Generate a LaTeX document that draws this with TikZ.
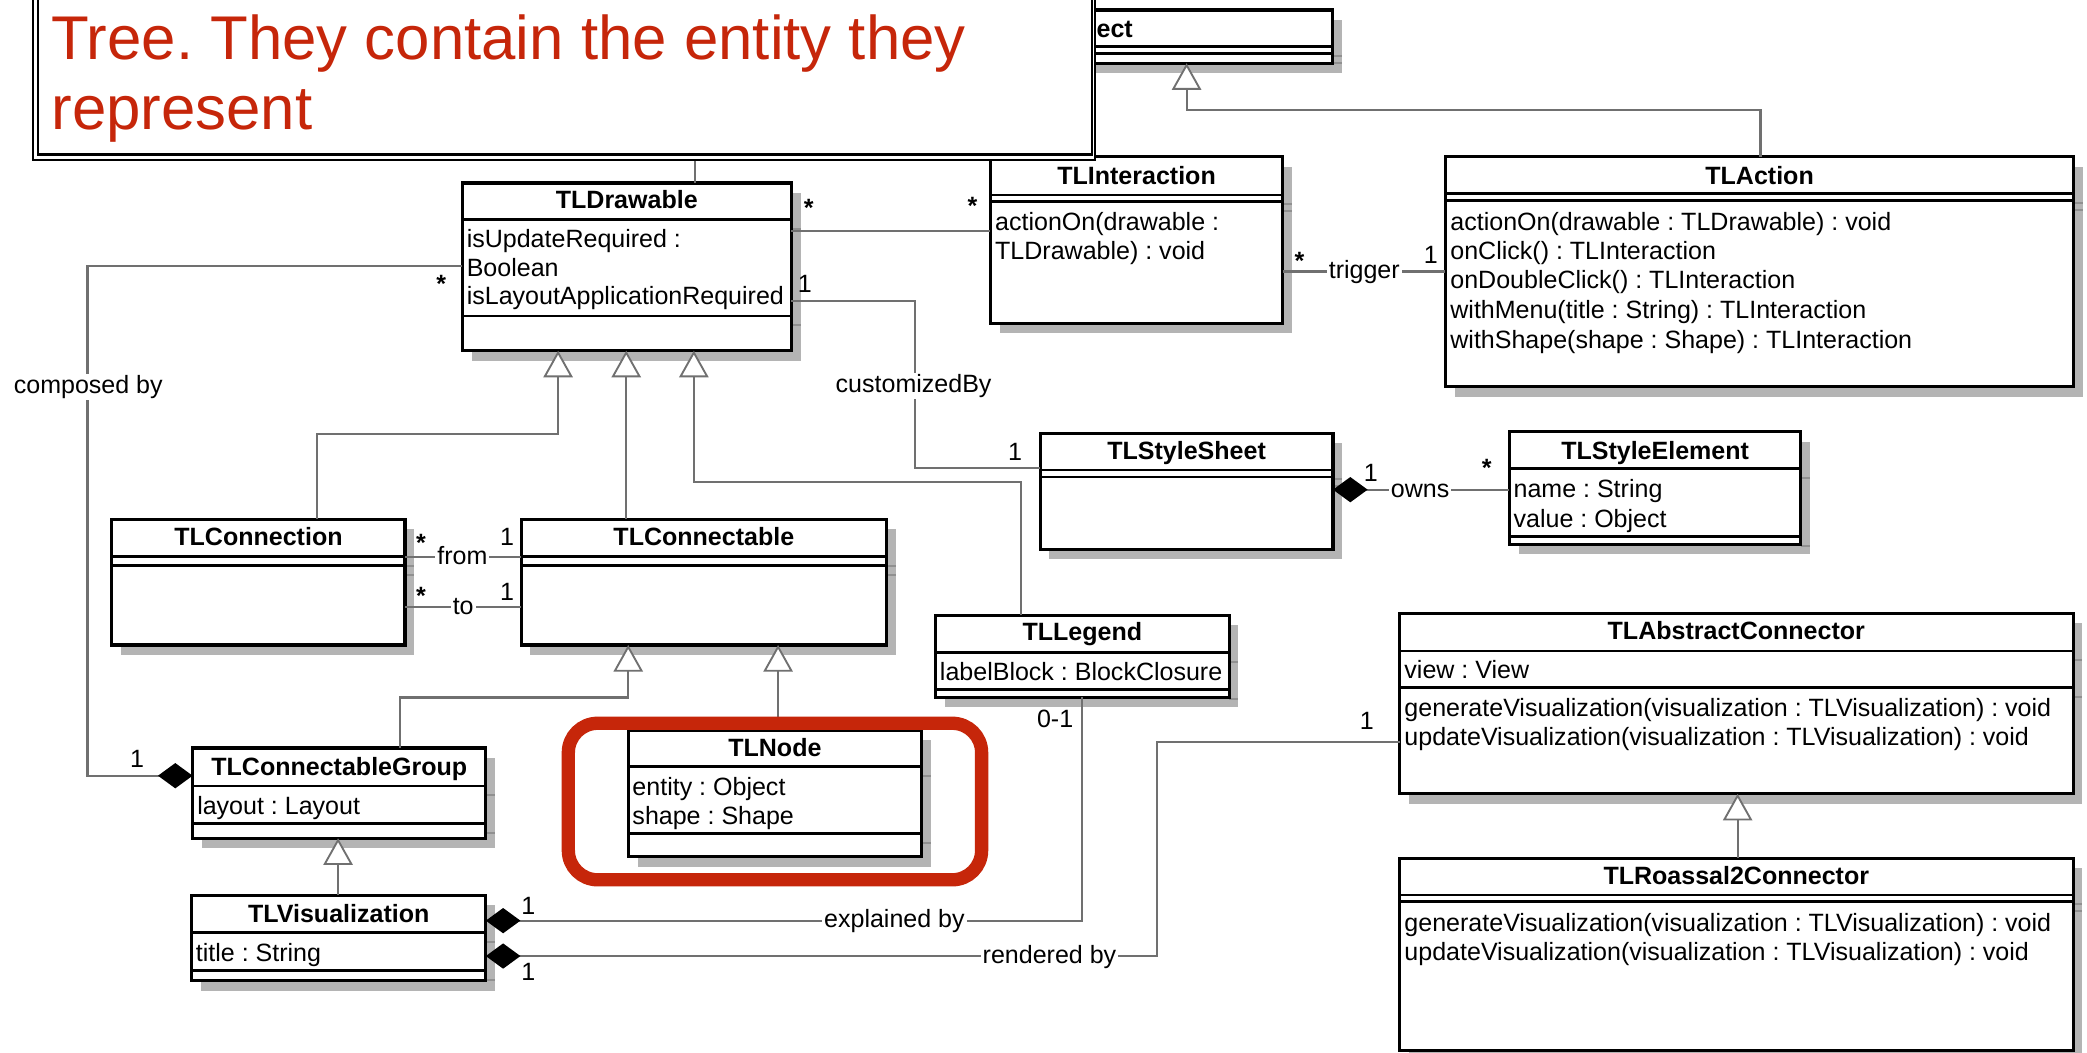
\documentclass[tikz,border=0pt]{standalone}
\usepackage{fontspec}
\setmainfont{Liberation Sans}
\usetikzlibrary{arrows.meta}
\definecolor{calred}{RGB}{198,38,10}
\definecolor{conngray}{RGB}{112,112,112}
\definecolor{shadowgray}{RGB}{180,180,180}
\tikzset{
  clsbox/.style={draw=black, fill=white, line width=2.3pt, inner sep=0pt, outer sep=0pt},
  sepline/.style={draw=black, line width=2pt},
  conn/.style={draw=conngray, line width=1.6pt},
  gen/.style={conn, -{Triangle[open, fill=white, length=20pt, width=22pt, line width=1.4pt]}},
  comp/.style={conn, {Diamond[length=26pt, width=19pt, color=black, fill=black]}-},
  ctitle/.style={font=\bfseries\fontsize{18.8}{22}\selectfont, anchor=base, inner sep=0pt},
  cline/.style={font=\fontsize{18.8}{22}\selectfont, anchor=base west, inner sep=0pt},
  mult/.style={font=\fontsize{18.8}{22}\selectfont, anchor=base, inner sep=0pt},
  star/.style={font=\bfseries\fontsize{18.8}{22}\selectfont, anchor=base, inner sep=0pt},
  role/.style={font=\fontsize{18.8}{22}\selectfont, anchor=base, fill=white, inner xsep=1.5pt, inner ysep=1pt, text height=13.5pt, text depth=4pt},
  calloutline/.style={draw=black, line width=1.6pt},
}
\newcommand{\umlcls}[6]{%
  \fill[shadowgray] ({#2+7},{#3+7.5}) rectangle ({#4+7},{#5+7.5});
  \foreach \s in {#6}{\draw[shadowgray!80!black, line width=1.5pt] ({#4},{\s+7}) -- ({#4+7},{\s+7});}
  \node[clsbox, minimum width={#4-#2}, minimum height={#5-#3}, anchor=north west] (#1) at (#2,#3) {};
  \foreach \s in {#6}{\draw[sepline] (#1.west |- 0,\s) -- (#1.east |- 0,\s);}
}
\begin{document}
\frenchspacing
\begin{tikzpicture}[x=1pt,y=-1pt]
\useasboundingbox (0,0) rectangle (1568,791);
\fill[white] (0,0) rectangle (1568,791);

% Object (mostly hidden)
\umlcls{object}{642}{7.5}{1001}{47.5}{35,40}
\node[ctitle] (object-t) at (821.8,28.5) {Object};

% classes
\umlcls{interaction}{744}{117.7}{963.8}{243}{146.5,151.5}
\node[ctitle] (interaction-t) at (853.9,138.5) {TLInteraction};
\node[cline] (interaction-o1) at (747.5,173.3) {actionOn(drawable :};
\node[cline] (interaction-o2) at (747.5,195) {TLDrawable) : void};

\umlcls{action}{1086}{117.7}{1558}{290.5}{145.5,150.5}
\node[ctitle] (action-t) at (1322,138.5) {TLAction};
\node[cline] (action-o1) at (1089.5,173.3) {actionOn(drawable : TLDrawable) : void};
\node[cline] (action-o2) at (1089.5,195) {onClick() : TLInteraction};
\node[cline] (action-o3) at (1089.5,217) {onDoubleClick() : TLInteraction};
\node[cline] (action-o4) at (1089.5,239) {withMenu(title : String) : TLInteraction};
\node[cline] (action-o5) at (1089.5,261.5) {withShape(shape : Shape) : TLInteraction};

\umlcls{drawable}{347.4}{137.5}{594.5}{263.5}{165,237.5}
\node[ctitle] (drawable-t) at (470.9,157) {TLDrawable};
\node[cline] (drawable-a1) at (350.5,186.3) {isUpdateRequired :};
\node[cline] (drawable-a2) at (350.5,207.6) {Boolean};
\node[cline] (drawable-a3) at (350.5,228.9) {isLayoutApplicationRequired};

\umlcls{connection}{84}{390}{304.3}{484.6}{418,425}
\node[ctitle] (connection-t) at (194.2,409.8) {TLConnection};

\umlcls{connectable}{391.5}{390}{666}{484.6}{418,425}
\node[ctitle] (connectable-t) at (528.8,409.8) {TLConnectable};

\umlcls{stylesheet}{781.4}{325.6}{1001.5}{412.5}{353,358.4}
\node[ctitle] (stylesheet-t) at (891.5,345.5) {TLStyleSheet};

\umlcls{styleelement}{1134}{324.5}{1353}{409}{352,403}
\node[ctitle] (styleelement-t) at (1243.5,345.5) {TLStyleElement};
\node[cline] (styleelement-a1) at (1137,374) {name : String};
\node[cline] (styleelement-a2) at (1137,396) {value : Object};

\umlcls{legend}{703}{462.4}{923.4}{524}{490,518}
\node[ctitle] (legend-t) at (813.2,481.5) {TLLegend};
\node[cline] (legend-a1) at (706,511.6) {labelBlock : BlockClosure};

\umlcls{abstract}{1051.5}{460.7}{1557.5}{596.4}{489,516.5}
\node[ctitle] (abstract-t) at (1304.5,480.5) {TLAbstractConnector};
\node[cline] (abstract-a1) at (1055,510) {view : View};
\node[cline] (abstract-o1) at (1055,538) {generateVisualization(visualization : TLVisualization) : void};
\node[cline] (abstract-o2) at (1055,560) {updateVisualization(visualization : TLVisualization) : void};

\umlcls{roassal}{1051.5}{644.7}{1557.5}{789}{672.5,677.5}
\node[ctitle] (roassal-t) at (1304.5,664.5) {TLRoassal2Connector};
\node[cline] (roassal-o1) at (1055,699.6) {generateVisualization(visualization : TLVisualization) : void};
\node[cline] (roassal-o2) at (1055,721.4) {updateVisualization(visualization : TLVisualization) : void};

\umlcls{group}{144.7}{562}{365}{629.8}{590.5,618.6}
\node[ctitle] (group-t) at (254.9,582.5) {TLConnectableGroup};
\node[cline] (group-a1) at (148,612) {layout : Layout};

\umlcls{tlnode}{472}{548.5}{692.4}{643.6}{576,626}
\node[ctitle] (tlnode-t) at (582.2,568.5) {TLNode};
\node[cline] (tlnode-a1) at (475,597.5) {entity : Object};
\node[cline] (tlnode-a2) at (475,619.6) {shape : Shape};

\umlcls{visualization}{144}{672.5}{365}{736.8}{700.7,729}
\node[ctitle] (visualization-t) at (254.5,693) {TLVisualization};
\node[cline] (visualization-a1) at (147,722.2) {title : String};

% connectors
\draw[gen] (action.north -| 1322.7,0) -- (1322.7,82.6) -- (891.5,82.6) -- (object.south -| 891.5,0);
\draw[conn] (drawable.north -| 522,0) -- (522,100);
\draw[conn] (drawable.east |- 0,173.6) -- (interaction.west |- 0,173.6);
\draw[conn] (interaction.east |- 0,204) -- (action.west |- 0,204);
\draw[conn] (drawable.east |- 0,225.9) -- (687.6,225.9) -- (687.6,351.9) -- (stylesheet.west |- 0,351.9);
\draw[comp] (stylesheet.east |- 0,367.9) -- (styleelement.west |- 0,367.9);
\draw[gen] (connection.north -| 238,0) -- (238,326) -- (419.3,326) -- (drawable.south -| 419.3,0);
\draw[gen] (connectable.north -| 470.5,0) -- (drawable.south -| 470.5,0);
\draw[gen] (legend.north -| 767,0) -- (767,362.4) -- (521.3,362.4) -- (drawable.south -| 521.3,0);
\draw[conn] (connection.east |- 0,418.7) -- (connectable.west |- 0,418.7);
\draw[conn] (connection.east |- 0,456.3) -- (connectable.west |- 0,456.3);
\draw[comp] (group.west |- 0,582.8) -- (65.7,582.8) -- (65.7,199.8) -- (drawable.west |- 0,199.8);
\draw[gen] (group.north -| 300.5,0) -- (300.5,524) -- (472,524) -- (connectable.south -| 472,0);
\draw[gen] (tlnode.north -| 584.6,0) -- (connectable.south -| 584.6,0);
\draw[gen] (visualization.north -| 254,0) -- (group.south -| 254,0);
\draw[comp] (visualization.east |- 0,691.7) -- (812.7,691.7) -- (legend.south -| 812.7,0);
\draw[comp] (visualization.east |- 0,718.3) -- (869.4,718.3) -- (869.4,557.2) -- (abstract.west |- 0,557.2);
\draw[gen] (roassal.north -| 1305.5,0) -- (abstract.south -| 1305.5,0);

% labels
\node[star] (l1) at (607.6,162.3) {*};
\node[star] (l2) at (730.7,161.1) {*};
\node[star] (l3) at (976.3,202.4) {*};
\node[role] (l4) at (1025,209.5) {trigger};
\node[mult] (l5) at (1075,198.3) {1};
\node[mult] (l6) at (604.7,219.6) {1};
\node[role] (l7) at (686.4,294.8) {customizedBy};
\node[mult] (l8) at (762.6,346.3) {1};
\node[mult] (l9) at (1030,361.7) {1};
\node[role] (l10) at (1067,373.5) {owns};
\node[star] (l11) at (1117,358.3) {*};
\node[star] (l12) at (316.3,414) {*};
\node[role] (l13) at (347.4,424.2) {from};
\node[mult] (l14) at (381,409.9) {1};
\node[star] (l15) at (316.3,454.1) {*};
\node[role] (l16) at (348,461.8) {to};
\node[mult] (l17) at (381,451.2) {1};
\node[star] (l18) at (331.6,219.8) {*};
\node[role] (l19) at (66.3,295.5) {composed by};
\node[mult] (l20) at (103,576.5) {1};
\node[mult] (l21) at (397,686.7) {1};
\node[role] (l22) at (672,697.2) {explained by};
\node[mult] (l23) at (792.7,546.7) {0-1};
\node[mult] (l24) at (397,736.7) {1};
\node[role] (l25) at (788.5,723.8) {rendered by};
\node[mult] (l26) at (1027,548.3) {1};

% highlight
\node[draw=calred, line width=10pt, rounded corners=22pt, minimum width=310.5pt, minimum height=117.6pt, anchor=north west, inner sep=0pt] (highlight) at (422,538.4) {};

% callout
\node[fill=white, minimum width=798pt, minimum height=142pt, anchor=south west, inner sep=0pt] (callout) at (24.5,120.5) {};
\draw[calloutline] (callout.north west) -- (callout.south west) -- (callout.south east) -- (callout.north east);
\draw[calloutline, line width=2pt] (28.5,-20) -- (28.5,116) -- (820.5,116) -- (820.5,-20);
\node[font=\fontsize{46.4}{52.6}\selectfont, text=calred, anchor=base west, inner sep=0pt] (callout-l1) at (38.5,44.6) {Tree. They contain the entity they};
\node[font=\fontsize{46.4}{52.6}\selectfont, text=calred, anchor=base west, inner sep=0pt] (callout-l2) at (38.5,97.2) {represent};
\end{tikzpicture}
\end{document}
